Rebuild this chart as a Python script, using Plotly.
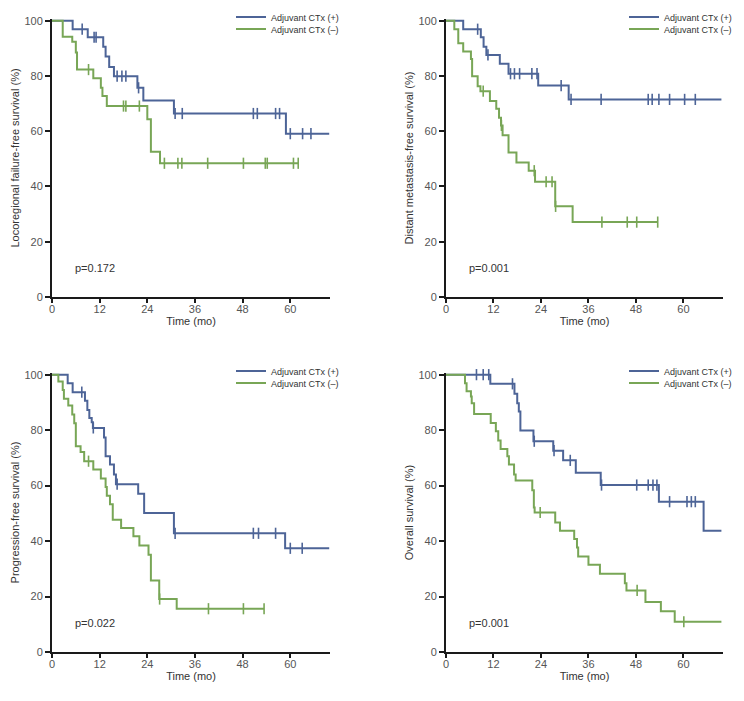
import numpy as np
import plotly.graph_objects as go

# ---------------- data ----------------
panel_titles = ["Locoregional failure-free survival (%)", "Distant metastasis-free survival (%)",
                "Progression-free survival (%)", "Overall survival (%)"]
p_values = ["p=0.172", "p=0.001", "p=0.022", "p=0.001"]
group_names = ["Adjuvant CTx (+)", "Adjuvant CTx (\u2013)"]
x_ticks = [0, 12, 24, 36, 48, 60]
y_ticks = [0, 20, 40, 60, 80, 100]

# Locoregional failure-free survival
lffs_pos_t = [0, 5.2, 9.0, 12.9, 13.5, 14.4, 15.6, 21.5, 23.0, 30.7, 58.9, 69.8]
lffs_pos_s = [100, 96.9, 94.0, 90.6, 87.0, 83.2, 79.9, 75.7, 71.1, 66.4, 59.1, 59.1]
lffs_pos_c = [7.6, 10.6, 11.1, 16.4, 17.6, 18.6, 21.8, 31.0, 32.8, 50.7, 51.7, 56.3, 57.3, 60.0, 63.1, 65.2]
lffs_neg_t = [0, 2.7, 5.1, 6.0, 6.3, 10.4, 12.3, 12.7, 13.8, 24.0, 24.9, 27.2, 62.0]
lffs_neg_s = [100, 94.2, 92.4, 88.5, 82.3, 79.2, 75.7, 72.7, 69.1, 64.3, 52.6, 48.4, 48.4]
lffs_neg_c = [9.2, 18.0, 18.6, 22.0, 28.3, 31.7, 32.7, 39.2, 48.2, 53.7, 54.2, 60.8, 62.0]

# Distant metastasis-free survival
dmfs_pos_t = [0, 4.35, 8.8, 9.5, 10.2, 13.6, 15.8, 23.3, 31.0, 69.6]
dmfs_pos_s = [100, 96.9, 94.0, 90.6, 87.6, 84.4, 80.8, 76.5, 71.5, 71.5]
dmfs_pos_c = [8.0, 10.6, 16.3, 17.3, 18.6, 21.7, 23.0, 29.1, 31.6, 39.2, 51.1, 52.1, 53.8, 56.5, 60.3, 63.0]
dmfs_neg_t = [0, 2.1, 3.1, 4.35, 6.3, 6.6, 8.0, 8.7, 11.1, 12.7, 13.4, 13.9, 14.3, 15.8, 17.8, 20.9, 22.5, 27.6, 32.0, 53.5]
dmfs_neg_s = [100, 96.9, 91.8, 88.8, 86.1, 79.9, 76.3, 74.5, 70.9, 68.1, 64.9, 62.1, 58.5, 52.3, 48.7, 45.7, 41.7, 32.8, 27.1, 27.1]
dmfs_neg_c = [9.4, 14.0, 22.3, 25.3, 26.8, 27.7, 39.4, 45.8, 48.2, 53.5]

# Progression-free survival
pfs_pos_t = [0, 3.95, 5.2, 8.3, 8.9, 9.4, 10.0, 10.3, 13.1, 13.5, 14.6, 15.6, 16.1, 21.7, 23.2, 30.7, 58.7, 69.8]
pfs_pos_s = [100, 96.9, 93.7, 90.6, 87.3, 84.4, 82.8, 80.8, 77.3, 70.6, 67.6, 64.0, 60.5, 57.1, 50.1, 42.8, 37.4, 37.4]
pfs_pos_c = [7.5, 10.4, 16.4, 31.0, 50.7, 52.0, 56.3, 60.0, 63.0]
pfs_neg_t = [0, 1.6, 2.7, 3.0, 4.1, 5.1, 5.6, 6.0, 7.2, 8.1, 10.4, 12.3, 13.5, 13.8, 14.6, 15.3, 17.4, 20.5, 22.0, 24.3, 24.9, 27.0, 31.4, 53.4]
pfs_neg_s = [100, 97.5, 94.5, 91.3, 88.9, 85.6, 82.5, 74.2, 72.1, 68.8, 65.8, 62.6, 59.5, 56.3, 53.3, 47.7, 44.7, 41.7, 38.4, 35.1, 25.8, 19.1, 15.6, 15.6]
pfs_neg_c = [9.2, 27.1, 39.4, 48.2, 53.4]

# Overall survival
os_pos_t = [0, 11.2, 17.3, 18.0, 18.4, 18.8, 22.1, 27.1, 29.6, 32.8, 39.1, 53.8, 65.1, 69.6]
os_pos_s = [100, 96.7, 93.1, 89.7, 86.7, 79.9, 76.0, 72.6, 69.1, 64.6, 60.2, 54.2, 43.7, 43.7]
os_pos_c = [7.7, 9.4, 10.8, 16.8, 22.3, 27.3, 31.4, 39.3, 48.2, 51.1, 52.3, 53.3, 56.5, 60.9, 62.0, 63.0]
os_neg_t = [0, 4.8, 5.2, 6.3, 6.5, 7.1, 11.3, 12.6, 13.2, 13.8, 15.5, 15.9, 17.2, 17.6, 21.8, 22.2, 22.4, 27.6, 28.8,
            32.4, 33.1, 33.4, 36.0, 38.9, 45.2, 45.6, 50.4, 54.3, 57.8, 69.6]
os_neg_s = [100, 96.9, 94.0, 92.1, 89.7, 85.8, 82.6, 79.6, 76.3, 73.2, 70.6, 67.6, 64.0, 61.8, 58.3, 52.1, 50.3, 46.7, 43.7,
            40.7, 37.7, 34.4, 31.5, 28.2, 24.8, 22.2, 18.0, 14.7, 10.9, 10.9]
os_neg_c = [23.8, 48.3, 60.1]

panels = [
    (lffs_pos_t, lffs_pos_s, lffs_pos_c, lffs_neg_t, lffs_neg_s, lffs_neg_c),
    (dmfs_pos_t, dmfs_pos_s, dmfs_pos_c, dmfs_neg_t, dmfs_neg_s, dmfs_neg_c),
    (pfs_pos_t, pfs_pos_s, pfs_pos_c, pfs_neg_t, pfs_neg_s, pfs_neg_c),
    (os_pos_t, os_pos_s, os_pos_c, os_neg_t, os_neg_s, os_neg_c),
]

# ---------------- style ----------------
OFF = 8                      # default page margin around the plot div
W, H = 744 - 2 * OFF, 701 - 2 * OFF
BLUE = "#4d6497"
GREEN = "#78a656"
FONT = "Liberation Sans, Arial, sans-serif"
AX = "#1a1a1a"
TXT = "#555555"

# panel pixel boxes in window coordinates: (left, right, top, bottom)
boxes = [(52, 330, 19, 297), (446, 723, 19, 297), (52, 330, 373, 652), (446, 723, 373, 652)]


def px_x(v):
    return (v - OFF) / W


def px_y(v):
    return 1 - (v - OFF) / H


def step_value(times, surv, c):
    times = np.asarray(times)
    idx = np.searchsorted(times, c, side="right") - 1
    return np.asarray(surv)[idx]


fig = go.Figure()
layout = dict(width=W, height=H, margin=dict(l=0, r=0, t=0, b=0, autoexpand=False),
              plot_bgcolor="white", paper_bgcolor="white", showlegend=True,
              font=dict(family=FONT, color=TXT))
annotations = []
leg_n = 0

for i, (pt, ps, pc, nt, ns, nc) in enumerate(panels):
    k = "" if i == 0 else str(i + 1)
    xa, ya = "x" + k, "y" + k
    l, r, tp, bt = boxes[i]
    for j, (t, s, c, col, name) in enumerate([(pt, ps, pc, BLUE, group_names[0]),
                                              (nt, ns, nc, GREEN, group_names[1])]):
        leg_n += 1
        lg = "legend" if leg_n == 1 else "legend" + str(leg_n)
        fig.add_trace(go.Scatter(x=t, y=s, mode="lines", line=dict(color=col, width=2, shape="hv"),
                                 name=name, xaxis=xa, yaxis=ya, legend=lg, showlegend=True))
        cy = [step_value(t, s, v) for v in c]
        fig.add_trace(go.Scatter(x=c, y=cy, mode="markers", cliponaxis=False,
                                 marker=dict(symbol="line-ns", size=8, line=dict(color=col, width=1.6)),
                                 xaxis=xa, yaxis=ya, showlegend=False, hoverinfo="skip"))
        layout[lg] = dict(x=px_x(r - 99), y=px_y(tp - 2 + 12 * j), xanchor="left", yanchor="middle",
                          bgcolor="rgba(0,0,0,0)", borderwidth=0,
                          font=dict(size=9, color="#333333", family=FONT),
                          itemwidth=30, tracegroupgap=0)
    layout["xaxis" + k] = dict(domain=[px_x(l), px_x(r)], anchor=ya, range=[0, 70], tickvals=x_ticks,
                               showline=True, linecolor=AX, linewidth=2, ticks="outside", ticklen=4,
                               tickwidth=1.5, tickcolor=AX, tickfont=dict(size=11, color=TXT, family=FONT),
                               ticklabelstandoff=-3,
                               showgrid=False, zeroline=False, automargin=False,
                               title=dict(text="Time (mo)", font=dict(size=11, color="#333333", family=FONT), standoff=0))
    layout["yaxis" + k] = dict(domain=[px_y(bt), px_y(tp)], anchor=xa, range=[0, 100.6], tickvals=y_ticks,
                               showline=True, linecolor=AX, linewidth=2, ticks="outside", ticklen=5,
                               tickwidth=1.5, tickcolor=AX, tickfont=dict(size=11, color=TXT, family=FONT),
                               showgrid=False, zeroline=False, automargin=False,
                               title=dict(text=panel_titles[i], font=dict(size=11, color="#333333", family=FONT), standoff=3))
    annotations.append(dict(x=5.3, y=10.4, xref=xa, yref=ya, text=p_values[i], showarrow=False,
                            xanchor="left", yanchor="middle", font=dict(size=11, color="#333333", family=FONT)))

layout["annotations"] = annotations
fig.update_layout(**layout)
fig.write_html("out.html")
